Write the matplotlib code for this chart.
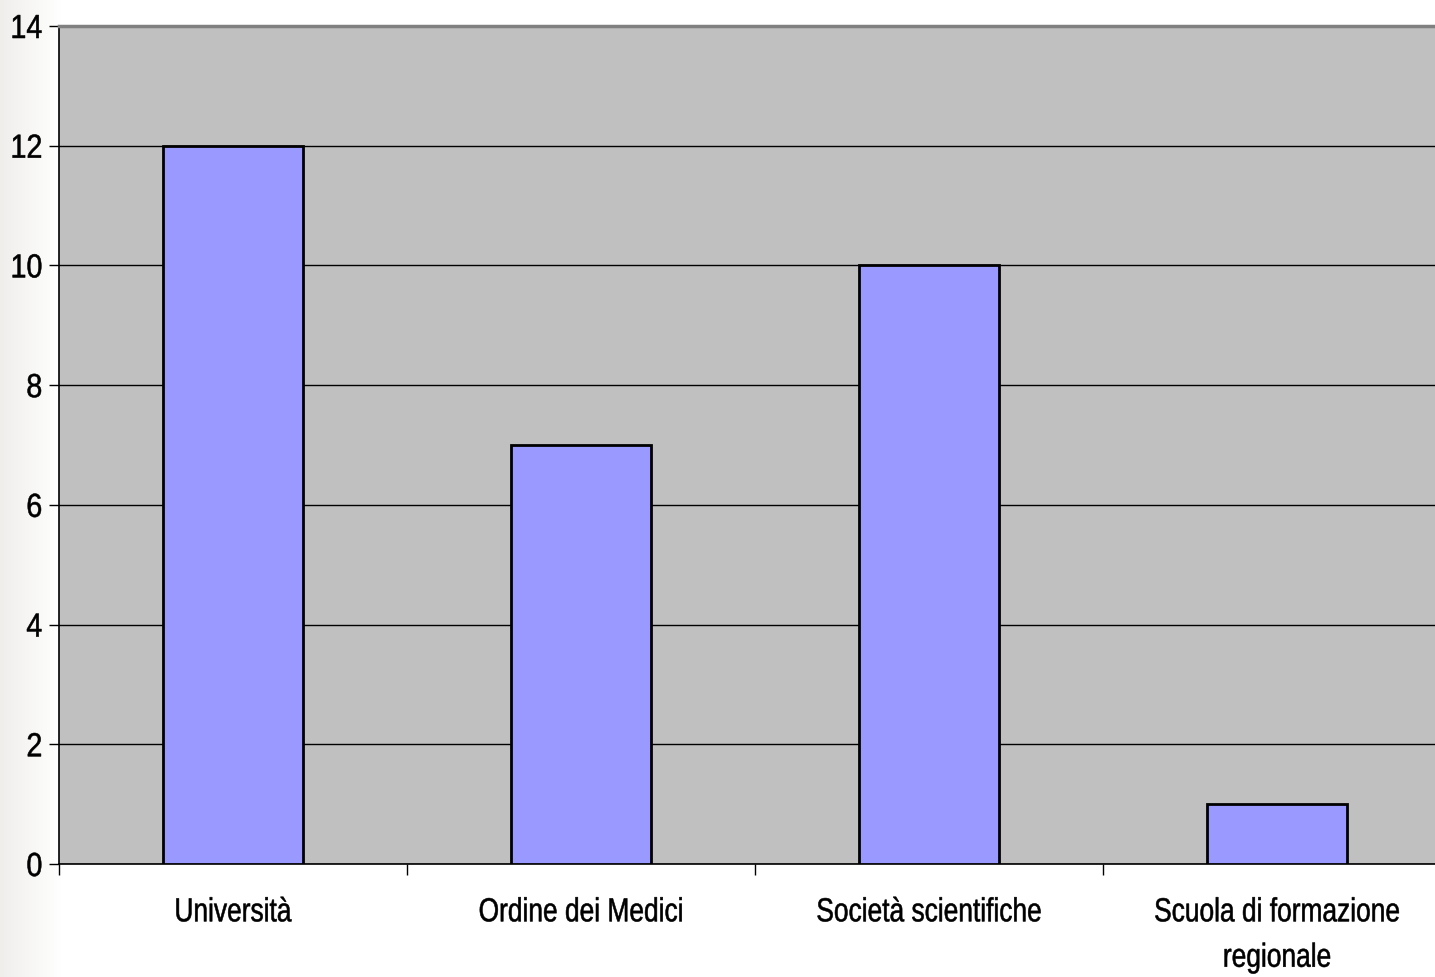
import numpy as np
import matplotlib
matplotlib.use("Agg")
import matplotlib.pyplot as plt
from matplotlib.patheffects import AbstractPathEffect
from matplotlib.transforms import Affine2D

# data
categories = ["Università", "Ordine dei Medici", "Società scientifiche",
              "Scuola di formazione\nregionale"]
values = [12, 7, 10, 1]
y_ticks = [0, 2, 4, 6, 8, 10, 12, 14]


class Squeeze(AbstractPathEffect):
    """squash text horizontally around x = cx (display px), the reference font is tight"""
    def __init__(self, cx, sx=0.8, lw=0.4):
        super().__init__()
        self.cx = cx
        self.sx = sx
        self.lw = lw

    def draw_path(self, renderer, gc, tpath, affine, rgbFace=None):
        squash = Affine2D().translate(-self.cx, 0).scale(self.sx, 1).translate(self.cx, 0)
        gc0 = renderer.new_gc()
        gc0.copy_properties(gc)
        gc0.set_linewidth(self.lw)
        gc0.set_foreground(rgbFace if rgbFace is not None else "black")
        renderer.draw_path(gc0, tpath, affine + squash, rgbFace)
        gc0.restore()


W, H = 1435, 977
fig = plt.figure(figsize=(W / 100, H / 100), dpi=100)

# pale gradient strip on the left edge of the slide
bg = fig.add_axes([0, 0, 1, 1], zorder=-10)
grad = np.ones((2, 400, 3))
ramp = np.clip(np.linspace(0, 1, 400) * W / 60, 0, 1)
base = np.array([0.94, 0.937, 0.925])
grad[:] = base + (1 - base) * ramp[:, None]
bg.imshow(grad, extent=[0, 1, 0, 1], aspect="auto")
bg.set_axis_off()

left, right, top, bottom = 59, 59 + 4 * 348, 26, 864
ax = fig.add_axes([left / W, 1 - bottom / H, (right - left) / W, (bottom - top) / H])
ax.set_facecolor("#c0c0c0")

x = np.arange(len(categories))
ax.bar(x, values, width=0.40, color="#9999ff", edgecolor="black", linewidth=2, zorder=3)

ax.set_xlim(-0.5, len(categories) - 0.5)
ax.set_ylim(0, 14)
ax.set_yticks(y_ticks)
ax.set_yticklabels([str(v) for v in y_ticks], fontsize=24, family=["Liberation Sans", "DejaVu Sans"])
ax.yaxis.grid(True, color="black", linewidth=1)
ax.set_axisbelow(True)

# boundary ticks, labels in the middle
ax.set_xticks(np.arange(len(categories) + 1) - 0.5)
ax.set_xticklabels([])
ax.set_xticks(x, minor=True)
ax.set_xticklabels(categories, minor=True, fontsize=24,
                   family=["Liberation Sans", "DejaVu Sans"], linespacing=1.6)
ax.tick_params(axis="x", which="minor", length=0, pad=24)
ax.tick_params(axis="x", which="major", length=8, width=1, color="black")
ax.tick_params(axis="y", length=7, width=1, color="black", pad=5)

for s in ["left", "bottom"]:
    ax.spines[s].set_color("black")
    ax.spines[s].set_linewidth(1.2)
ax.spines["top"].set_color("#808080")
ax.spines["top"].set_linewidth(2.5)
ax.spines["right"].set_visible(False)

fig.canvas.draw()
for t in ax.get_xticklabels(minor=True):
    bb = t.get_window_extent()
    t.set_path_effects([Squeeze((bb.x0 + bb.x1) / 2, 0.79)])
for t in ax.get_yticklabels():
    bb = t.get_window_extent()
    t.set_path_effects([Squeeze(bb.x1, 0.86)])

fig.savefig("out.png", dpi=100)
